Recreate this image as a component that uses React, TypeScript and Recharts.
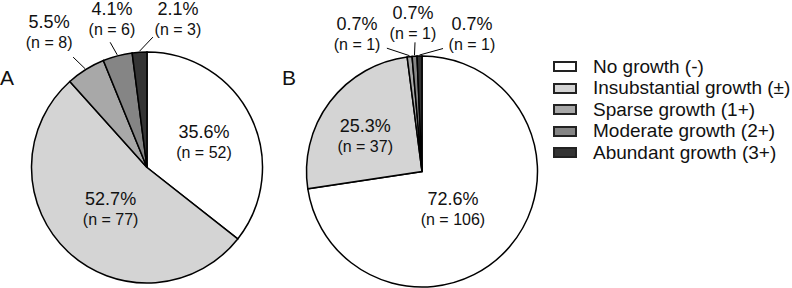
import React from "react";
import { PieChart, Pie, Cell, Legend } from "recharts";

// categories shared by both panels
const CATEGORIES = [
  "No growth (-)",
  "Insubstantial growth (±)",
  "Sparse growth (1+)",
  "Moderate growth (2+)",
  "Abundant growth (3+)",
];
const COUNTS_A = [52, 77, 8, 6, 3];
const COUNTS_B = [106, 37, 1, 1, 1];
const PANELS = ["A", "B"];

const FILLS = ["#ffffff", "#d4d4d4", "#a8a8a8", "#858585", "#343434"];
const FONT = "'Liberation Sans', Arial, Helvetica, sans-serif";
const RAD = Math.PI / 180;

// label placement per slice: text angle / radius (as a share of outer radius),
// and for the small slices the end of the leader line
const LAYOUT_A = [
  { angle: 24, r: 0.54 },
  { angle: 229, r: 0.48 },
  { angle: 125.9, r: 1.445, lineAngle: 123.8, lineR: 1.15 },
  { angle: 103.3, r: 1.32, lineAngle: 106.4, lineR: 1.13 },
  { angle: 78.2, r: 1.31, lineAngle: 87.4, lineR: 1.13 },
];
const LAYOUT_B = [
  { angle: -50.4, r: 0.42 },
  { angle: 148, r: 0.58 },
  { angle: 115.2, r: 1.32, lineAngle: 105.9, lineR: 1.11 },
  { angle: 93.5, r: 1.29, lineAngle: 93.1, lineR: 1.12 },
  { angle: 70.1, r: 1.27, lineAngle: 80.3, lineR: 1.08 },
];

const dataA = CATEGORIES.map((name, i) => ({ name, value: COUNTS_A[i] }));
const dataB = CATEGORIES.map((name, i) => ({ name, value: COUNTS_B[i] }));

const polar = (cx: number, cy: number, r: number, angle: number) => ({
  x: cx + r * Math.cos(-angle * RAD),
  y: cy + r * Math.sin(-angle * RAD),
});

const makeLabel = (layout: any[]) => (props: any) => {
  const { cx, cy, midAngle, outerRadius, percent, value, index } = props;
  const l = layout[index];
  const p = polar(cx, cy, outerRadius * l.r, l.angle);
  const pct = (percent * 100).toFixed(1) + "%";
  return (
    <g key={`lbl-${index}`}>
      {l.lineAngle !== undefined && (
        <line
          x1={polar(cx, cy, outerRadius + 1, midAngle).x}
          y1={polar(cx, cy, outerRadius + 1, midAngle).y}
          x2={polar(cx, cy, outerRadius * l.lineR, l.lineAngle).x}
          y2={polar(cx, cy, outerRadius * l.lineR, l.lineAngle).y}
          stroke="#000"
          strokeWidth={1}
        />
      )}
      <text
        x={p.x}
        y={p.y - 10}
        textAnchor="middle"
        dominantBaseline="central"
        fontSize={18}
        fontFamily={FONT}
        fill="#111"
      >
        {pct}
      </text>
      <text
        x={p.x}
        y={p.y + 10.5}
        textAnchor="middle"
        dominantBaseline="central"
        fontSize={16}
        fontFamily={FONT}
        fill="#111"
      >
        {`(n = ${value})`}
      </text>
    </g>
  );
};

const LegendBox = () => (
  <div style={{ fontFamily: FONT, fontSize: 19, color: "#111" }}>
    {CATEGORIES.map((c, i) => (
      <div key={c} style={{ display: "flex", alignItems: "center", height: 21.5, whiteSpace: "nowrap" }}>
        <span
          style={{
            display: "inline-block",
            width: 20,
            height: 7,
            border: "2px solid #222",
            background: FILLS[i],
            marginRight: 16,
          }}
        />
        <span>{c}</span>
      </div>
    ))}
  </div>
);

export default function App() {
  return (
    <div style={{ position: "relative", width: 792, height: 288, background: "#fff" }}>
      <style>{`body{margin:0}`}</style>
      <PieChart width={792} height={288} margin={{ top: 0, right: 0, bottom: 0, left: 0 }}>
        <Pie
          data={dataA}
          dataKey="value"
          nameKey="name"
          cx={147}
          cy={167.5}
          outerRadius={115.5}
          startAngle={90}
          endAngle={-270}
          stroke="#000"
          strokeWidth={1.5}
          labelLine={false}
          label={makeLabel(LAYOUT_A)}
          isAnimationActive={false}
        >
          {dataA.map((d, i) => (
            <Cell key={`a-${i}`} fill={FILLS[i]} />
          ))}
        </Pie>
        <Pie
          data={dataB}
          dataKey="value"
          nameKey="name"
          cx={422}
          cy={171.5}
          outerRadius={115.5}
          startAngle={90}
          endAngle={-270}
          stroke="#000"
          strokeWidth={1.5}
          labelLine={false}
          label={makeLabel(LAYOUT_B)}
          isAnimationActive={false}
        >
          {dataB.map((d, i) => (
            <Cell key={`b-${i}`} fill={FILLS[i]} />
          ))}
        </Pie>
        <Legend
          content={() => <LegendBox />}
          wrapperStyle={{ position: "absolute", left: 553, top: 56, width: "auto", right: "auto" }}
        />
      </PieChart>
      <svg width={792} height={288} style={{ position: "absolute", left: 0, top: 0, pointerEvents: "none" }}>
        <text x={0} y={85} fontSize={21} fontFamily={FONT} fill="#111">{PANELS[0]}</text>
        <text x={282} y={85} fontSize={21} fontFamily={FONT} fill="#111">{PANELS[1]}</text>
      </svg>
    </div>
  );
}
